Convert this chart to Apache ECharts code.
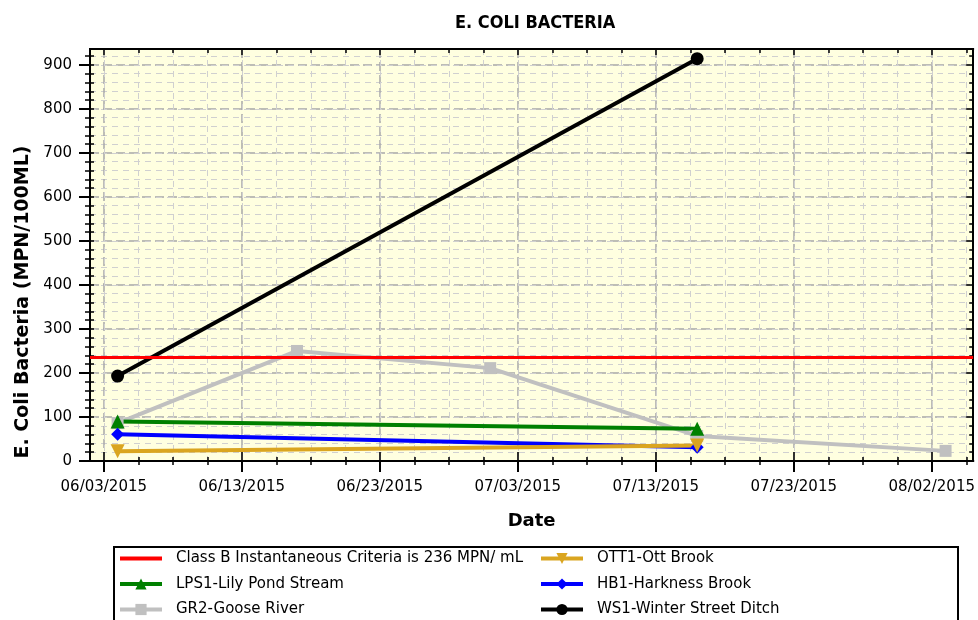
<!DOCTYPE html>
<html>
<head>
<meta charset="utf-8">
<script src="https://cdn.jsdelivr.net/npm/echarts@6/dist/echarts.min.js"></script>
<style>
  html, body { margin: 0; padding: 0; background: #fff; }
  #chart { width: 978px; height: 620px; }
</style>
</head>
<body>
<div id="chart"></div>
<script>
// values
const criteria = 236;
const lps1Dates = ['06/04/2015', '07/16/2015'];
const lps1Values = [90, 73];
const gr2Dates = ['06/04/2015', '06/17/2015', '07/01/2015', '07/16/2015', '08/03/2015'];
const gr2Values = [86, 250, 211, 57, 23];
const ott1Dates = ['06/04/2015', '07/16/2015'];
const ott1Values = [22, 35];
const hb1Dates = ['06/04/2015', '07/16/2015'];
const hb1Values = [61, 31];
const ws1Dates = ['06/04/2015', '07/16/2015'];
const ws1Values = [193, 914];

const xTickLabels = ['06/03/2015', '06/13/2015', '06/23/2015', '07/03/2015', '07/13/2015', '07/23/2015', '08/02/2015'];
const yTicks = [0, 100, 200, 300, 400, 500, 600, 700, 800, 900];

// x axis runs in days counted from 06/03/2015
const base = Date.UTC(2015, 5, 3);
function dayOf(s) {
    const p = s.split('/').map(Number);
    return (Date.UTC(p[2], p[0] - 1, p[1]) - base) / 864e5;
}
function dateOf(n) {
    const d = new Date(base + n * 864e5);
    const pad = v => String(v).padStart(2, '0');
    return pad(d.getUTCMonth() + 1) + '/' + pad(d.getUTCDate()) + '/' + d.getUTCFullYear();
}
function pairs(dates, values) {
    return dates.map((d, i) => [dayOf(d), values[i]]);
}

const xMin = -1, xMax = 63, yMin = 0, yMax = 936;
const xMajor = xTickLabels.map(dayOf);
const xMinor = [];
for (let v = 0; v < xMax; v += 2.5) xMinor.push(v);
const yMinor = [];
for (let v = 0; v < yMax; v += 20) yMinor.push(v);

const font = 'DejaVu Sans';
const black = { color: '#000', width: 2 };

// extra axes that only draw ticks / grid lines
function xOverlay(position, values, len, inside, split) {
    return {
        type: 'value', position: position, min: xMin, max: xMax,
        axisLine: { show: true, onZero: false, lineStyle: black },
        axisTick: { show: true, customValues: values, inside: inside, length: len, lineStyle: { color: '#000', width: 1.5 } },
        axisLabel: { show: false },
        splitLine: split ? { show: true, lineStyle: split } : { show: false }
    };
}
function yOverlay(position, values, len, inside, split) {
    return {
        type: 'value', position: position, min: yMin, max: yMax,
        axisLine: { show: true, onZero: false, lineStyle: black },
        axisTick: { show: true, customValues: values, inside: inside, length: len, lineStyle: { color: '#000', width: 1.5 } },
        axisLabel: { show: false },
        splitLine: split ? { show: true, lineStyle: split } : { show: false }
    };
}
const majorGrid = { color: '#a8a8a8', width: 1.5, type: [9, 4] };
const minorGrid = { color: '#d0d0d0', width: 1, type: [6, 5] };

const legendBase = {
    orient: 'vertical', top: 551, padding: 0,
    itemWidth: 42, itemHeight: 14, itemGap: 10.5,
    lineStyle: { width: 4 },
    textStyle: { fontFamily: font, fontSize: 15, color: '#000', padding: [0, 0, 0, 9] }
};

const chart = echarts.init(document.getElementById('chart'));

const option = {
    animation: false,
    backgroundColor: '#fff',
    title: {
        text: 'E. COLI BACTERIA',
        left: 450, top: 9,
        textStyle: { fontFamily: 'DejaVu Sans Condensed', fontWeight: 'bold', fontSize: 18, color: '#000' }
    },
    grid: {
        left: 90, right: 1, top: 49, bottom: 159,
        show: true, backgroundColor: '#ffffe0', borderWidth: 0
    },
    graphic: [{
        type: 'rect', left: 113, top: 546, z: 1,
        shape: { width: 844, height: 100 },
        style: { fill: '#fff', stroke: '#000', lineWidth: 2 }
    }],
    legend: [Object.assign({}, legendBase, {
        left: 118,
        data: [
            { name: 'Class B Instantaneous Criteria is 236 MPN/ mL', itemStyle: { opacity: 0 } },
            'LPS1-Lily Pond Stream', 'GR2-Goose River'
        ]
    }), Object.assign({}, legendBase, {
        left: 539,
        data: ['OTT1-Ott Brook', 'HB1-Harkness Brook', 'WS1-Winter Street Ditch']
    })],
    xAxis: [{
        type: 'value', position: 'bottom', min: xMin, max: xMax,
        name: 'Date', nameLocation: 'middle', nameGap: 51,
        nameTextStyle: { fontFamily: font, fontWeight: 'bold', fontSize: 18, color: '#000' },
        axisLine: { show: true, onZero: false, lineStyle: black },
        axisTick: { show: true, customValues: xMajor, length: 11, lineStyle: { color: '#000', width: 2 } },
        axisLabel: { customValues: xMajor, formatter: dateOf, margin: 19, fontFamily: font, fontSize: 15, color: '#000' },
        splitLine: { show: true, lineStyle: majorGrid }
    },
        xOverlay('bottom', xMinor, 4, false, minorGrid),
        xOverlay('bottom', xMajor, 9, true, null),
        xOverlay('bottom', xMinor, 4, true, null),
        xOverlay('top', xMajor, 6, true, null),
        xOverlay('top', xMinor, 4, true, null)
    ],
    yAxis: [{
        type: 'value', position: 'left', min: yMin, max: yMax,
        name: 'E. Coli Bacteria (MPN/100ML)', nameLocation: 'middle', nameGap: 56, nameRotate: 90,
        nameTextStyle: { fontFamily: font, fontWeight: 'bold', fontSize: 19, color: '#000', padding: [0, 94, 0, 0] },
        axisLine: { show: true, onZero: false, lineStyle: black },
        axisTick: { show: true, customValues: yTicks, length: 11, lineStyle: { color: '#000', width: 2 } },
        axisLabel: { customValues: yTicks, margin: 18, fontFamily: font, fontSize: 15, color: '#000' },
        splitLine: { show: true, lineStyle: majorGrid }
    },
        yOverlay('left', yMinor, 5, false, minorGrid),
        yOverlay('left', yMinor, 4, true, null),
        yOverlay('right', yTicks, 7, true, null),
        yOverlay('right', yMinor, 4, true, null)
    ],
    series: [{
        name: 'GR2-Goose River', type: 'line', color: '#c0c0c0',
        symbol: 'rect', symbolSize: 12, lineStyle: { width: 4 },
        data: pairs(gr2Dates, gr2Values)
    }, {
        name: 'Class B Instantaneous Criteria is 236 MPN/ mL', type: 'line', color: '#ff0000',
        symbol: 'none', lineStyle: { width: 3 }, data: [],
        markLine: {
            silent: true, symbol: 'none', label: { show: false },
            lineStyle: { color: '#ff0000', width: 3, type: 'solid' },
            data: [{ yAxis: criteria }]
        }
    }, {
        name: 'LPS1-Lily Pond Stream', type: 'line', color: '#008000',
        symbol: 'triangle', symbolSize: 14, lineStyle: { width: 4 },
        data: pairs(lps1Dates, lps1Values)
    }, {
        name: 'HB1-Harkness Brook', type: 'line', color: '#0000ff',
        symbol: 'diamond', symbolSize: 13, lineStyle: { width: 4 },
        data: pairs(hb1Dates, hb1Values)
    }, {
        name: 'OTT1-Ott Brook', type: 'line', color: '#daa520',
        symbol: 'triangle', symbolRotate: 180, symbolSize: 14, lineStyle: { width: 4 },
        data: pairs(ott1Dates, ott1Values)
    }, {
        name: 'WS1-Winter Street Ditch', type: 'line', color: '#000',
        symbol: 'circle', symbolSize: 13, lineStyle: { width: 4 },
        data: pairs(ws1Dates, ws1Values)
    }]
};

chart.setOption(option);
</script>
</body>
</html>
